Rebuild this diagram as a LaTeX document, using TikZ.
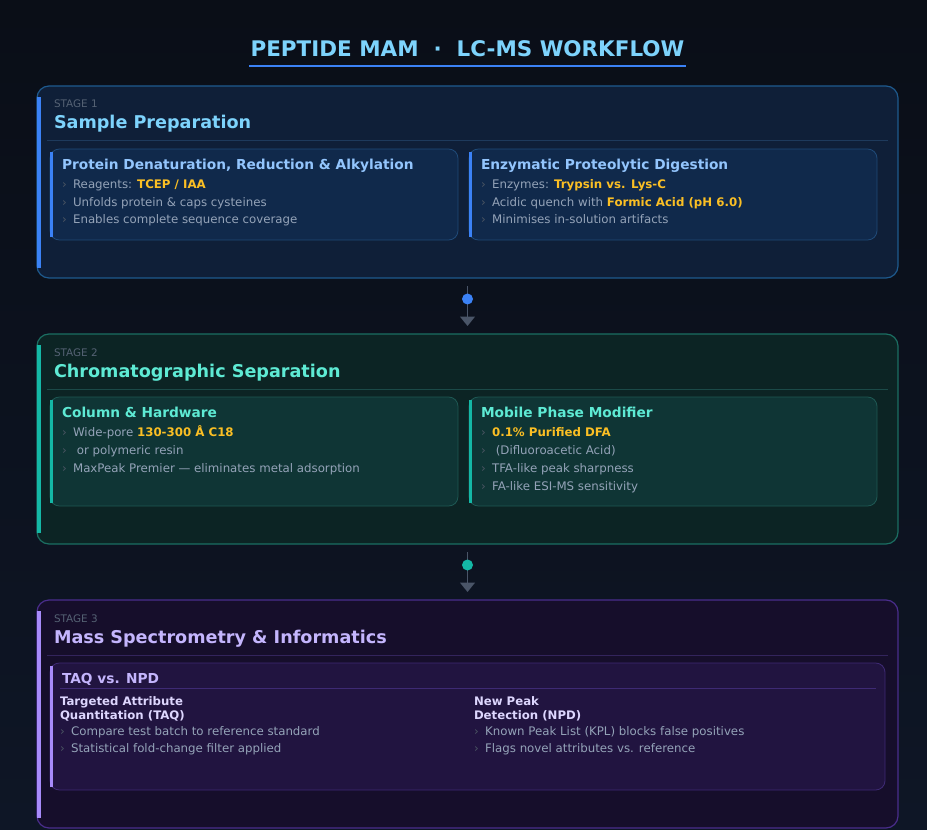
\documentclass[tikz,border=0pt]{standalone}
\usepackage{fontspec}
\setmainfont{DejaVu Sans}
\usepackage{xcolor}
\usetikzlibrary{arrows.meta,positioning}
\definecolor{bgtop}{HTML}{0A0E17}
\definecolor{bgbot}{HTML}{0E1626}
\definecolor{ttl}{HTML}{7DD3FC}
\definecolor{acblue}{HTML}{3B82F6}
\definecolor{acteal}{HTML}{14B8A6}
\definecolor{acviol}{HTML}{A78BFA}
\definecolor{stgray}{HTML}{556274}
\definecolor{txt}{HTML}{94A3B8}
\definecolor{bulc}{HTML}{4B5563}
\definecolor{hlc}{HTML}{FBBF24}
\definecolor{connc}{HTML}{4A5568}
\definecolor{sfillA}{HTML}{0F1F38}
\definecolor{slineA}{HTML}{1E5A8E}
\definecolor{ssepA}{HTML}{1E3A5C}
\definecolor{cfillA}{HTML}{10294B}
\definecolor{clineA}{HTML}{1F4A78}
\definecolor{cheadA}{HTML}{93C5FD}
\definecolor{sfillB}{HTML}{0C2424}
\definecolor{slineB}{HTML}{1B6E62}
\definecolor{ssepB}{HTML}{1B4A48}
\definecolor{cfillB}{HTML}{0F3535}
\definecolor{clineB}{HTML}{1E5853}
\definecolor{cheadB}{HTML}{5EEAD4}
\definecolor{sfillC}{HTML}{160E2B}
\definecolor{slineC}{HTML}{4A2D8C}
\definecolor{ssepC}{HTML}{33245C}
\definecolor{cfillC}{HTML}{211440}
\definecolor{clineC}{HTML}{3E2A74}
\definecolor{cheadC}{HTML}{C4B5FD}
\definecolor{subhead}{HTML}{DDD6FE}
\newcommand\itm[1]{\makebox[8.3pt][l]{\textcolor{bulc}{›}}#1}
\newcommand\hl[1]{\textcolor{hlc}{\bfseries #1}}
\tikzset{
  every node/.style={inner sep=0pt,outer sep=0pt,anchor=base west},
  stage/.style 2 args={draw=#1,fill=#2,line width=0.9pt,rounded corners=9pt,anchor=north west},
  card/.style 2 args={draw=#1,fill=#2,line width=0.6pt,rounded corners=7pt,anchor=north west},
  stlab/.style={font=\fontsize{7.8pt}{9pt}\selectfont,text=stgray},
  sthead/.style={font=\bfseries\fontsize{13.2pt}{15pt}\selectfont,text=#1},
  cdhead/.style={font=\bfseries\fontsize{10.3pt}{12pt}\selectfont,text=#1},
  item/.style={font=\fontsize{8.85pt}{11pt}\selectfont,text=txt},
  subhd/.style={font=\bfseries\fontsize{8.8pt}{10.5pt}\selectfont,text=subhead},
  conn/.style={draw=connc,line width=1.1pt,-{Triangle[width=11pt,length=7pt]},
               shorten <=6pt,shorten >=6pt},
  dot/.style={circle,fill=#1,minimum size=8.25pt,anchor=center},
}

\begin{document}
\begin{tikzpicture}[x=0.75pt,y=-0.75pt]
\shade[top color=bgtop,bottom color=bgbot] (0,0) rectangle (927,830);
\useasboundingbox (0,0) rectangle (927,830);

% title
\node[anchor=base,text=ttl,font=\bfseries\fontsize{16.1pt}{18pt}\selectfont] (title) at (467.5,57)
 {PEPTIDE MAM~~·~~LC-MS WORKFLOW};
\draw[acblue,line width=1.2pt] ([xshift=-1pt,yshift=-6.75pt]title.base west) -- ([xshift=1pt,yshift=-6.75pt]title.base east);

% stage 1
\node[stage={slineA}{sfillA},minimum width=645.75pt,minimum height=144pt] (st1) at (37,86) {};
\fill[acblue] (37,97) rectangle (41,268);
\node[stlab] (s1lab) at (54,108) {STAGE 1};
\node[sthead=ttl] (s1hd) at (54,129) {Sample Preparation};
\draw[ssepA,line width=0.75pt] (47,141) -- (888,141);

\node[card={clineA}{cfillA},minimum width=306pt,minimum height=68.25pt] (c1a) at (50,149) {};
\node[card={clineA}{cfillA},minimum width=306pt,minimum height=68.25pt] (c1b) at (469,149) {};
\fill[acblue] (50,152) rectangle (53,237);
\fill[acblue] (469,152) rectangle (472,237);
\node[cdhead=cheadA] (h1a) at (62,170) {Protein Denaturation, Reduction \& Alkylation};
\node[cdhead=cheadA] (h1b) at (481,170) {Enzymatic Proteolytic Digestion};
\foreach \t [count=\i from 0] in {{Reagents: \hl{TCEP / IAA}},{Unfolds protein \& caps cysteines},{Enables complete sequence coverage}}
  \node[item] (p\i) at (62,188.3+17.8*\i) {\itm{\t}};
\foreach \t [count=\i from 0] in {{Enzymes: \hl{Trypsin vs. Lys-C}},{Acidic quench with \hl{Formic Acid (pH 6.0)}},{Minimises in-solution artifacts}}
  \node[item] (q\i) at (481,188.3+17.8*\i) {\itm{\t}};

% stage 2
\node[stage={slineB}{sfillB},minimum width=645.75pt,minimum height=157.5pt] (st2) at (37,334) {};
\fill[acteal] (37,345) rectangle (41,533);
\node[stlab] (s2lab) at (54,356) {STAGE 2};
\node[sthead=cheadB] (s2hd) at (54,377) {Chromatographic Separation};
\draw[ssepB,line width=0.75pt] (47,389) -- (888,389);

\node[card={clineB}{cfillB},minimum width=306pt,minimum height=81.75pt] (c2a) at (50,397) {};
\node[card={clineB}{cfillB},minimum width=306pt,minimum height=81.75pt] (c2b) at (469,397) {};
\fill[acteal] (50,400) rectangle (53,503);
\fill[acteal] (469,400) rectangle (472,503);
\node[cdhead=cheadB] (h2a) at (62,417) {Column \& Hardware};
\node[cdhead=cheadB] (h2b) at (481,417) {Mobile Phase Modifier};
\foreach \t [count=\i from 0] in {{Wide-pore \hl{130-300 Å C18}},{\ or polymeric resin},{MaxPeak Premier — eliminates metal adsorption}}
  \node[item] (r\i) at (62,436.7+17.8*\i) {\itm{\t}};
\foreach \t [count=\i from 0] in {{\hl{0.1\% Purified DFA}},{\ (Difluoroacetic Acid)},{TFA-like peak sharpness},{FA-like ESI-MS sensitivity}}
  \node[item] (m\i) at (481,436.7+17.8*\i) {\itm{\t}};

% stage 3
\node[stage={slineC}{sfillC},minimum width=645.75pt,minimum height=171pt] (st3) at (37,600) {};
\fill[acviol] (37,611) rectangle (41,818);
\node[stlab] (s3lab) at (54,622) {STAGE 3};
\node[sthead=cheadC] (s3hd) at (54,643) {Mass Spectrometry \& Informatics};
\draw[ssepC,line width=0.75pt] (47,655) -- (888,655);

\node[card={clineC}{cfillC},minimum width=626.25pt,minimum height=95.25pt] (c3) at (50,663) {};
\fill[acviol] (50,666) rectangle (53,787);
\node[cdhead=cheadC] (h3) at (62,683) {TAQ vs. NPD};
\draw[clineC,line width=0.75pt] (60,688) -- (876,688);
\node[subhd] (taq1) at (60,705) {Targeted Attribute};
\node[subhd] (taq2) at (60,719) {Quantitation (TAQ)};
\node[subhd] (npd1) at (474,705) {New Peak};
\node[subhd] (npd2) at (474,719) {Detection (NPD)};
\foreach \t [count=\i from 0] in {{Compare test batch to reference standard},{Statistical fold-change filter applied}}
  \node[item] (t\i) at (60,735+17.7*\i) {\itm{\t}};
\foreach \t [count=\i from 0] in {{Known Peak List (KPL) blocks false positives},{Flags novel attributes vs. reference}}
  \node[item] (n\i) at (474,735+17.7*\i) {\itm{\t}};

% connectors
\draw[conn] (st1) -- (st2);
\node[dot=acblue] (k1) at (467.5,299) {};
\draw[conn] (st2) -- (st3);
\node[dot=acteal] (k2) at (467.5,565) {};
\end{tikzpicture}
\end{document}
